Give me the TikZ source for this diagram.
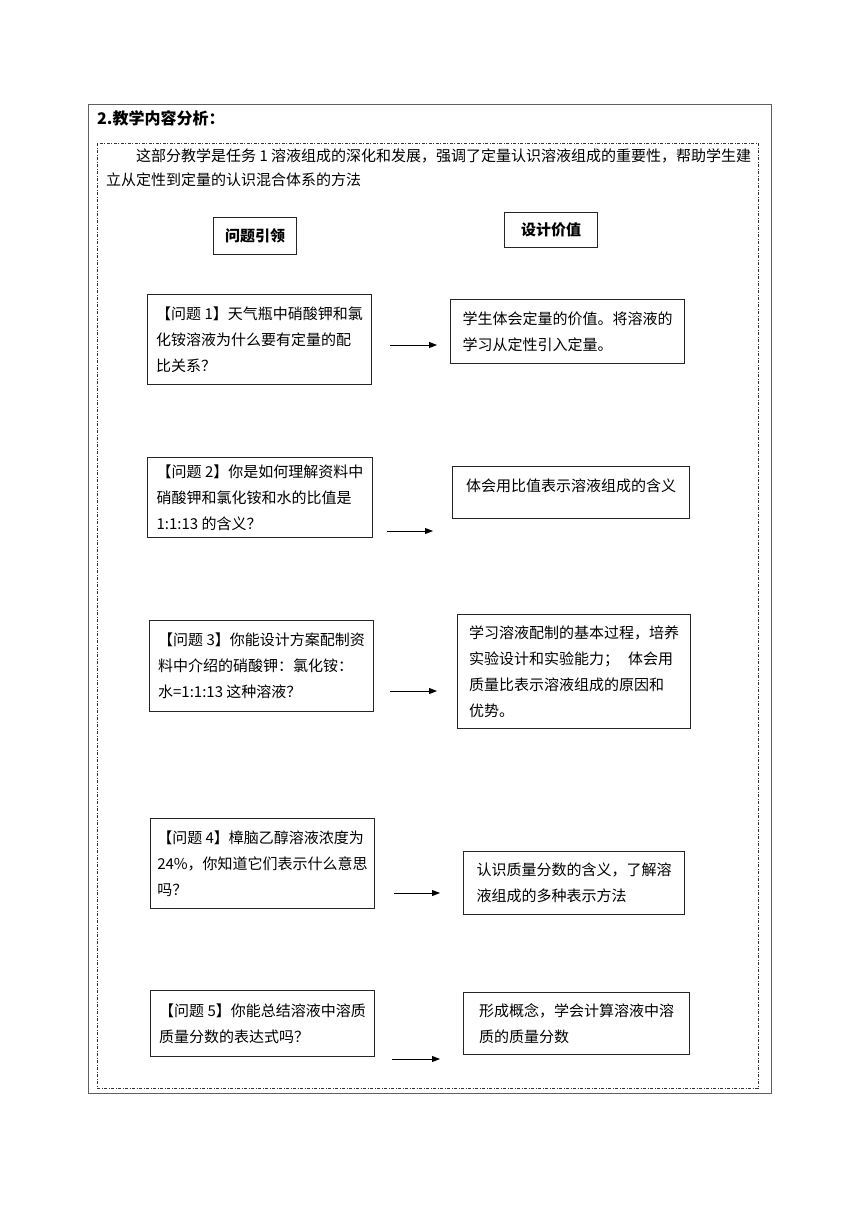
\documentclass[tikz,border=0pt]{standalone}
\usepackage{fontspec}
\setmainfont{Noto Sans CJK SC}
\usepackage{xcolor}
\usepackage{tikz}
\usetikzlibrary{arrows.meta}
\newcommand{\bodyfont}{\fontsize{15}{26}\selectfont}
\newcommand{\introfont}{\fontsize{15}{24}\selectfont}
\newcommand{\headfont}{\fontsize{15}{20}\selectfont\bfseries}
\newcommand{\titlefont}{\fontsize{16}{20}\selectfont\bfseries}
\definecolor{framegray}{RGB}{95,95,95}
\tikzset{
  frame/.style={draw=framegray, line width=1pt},
  dashframe/.style={draw=black!80, line width=0.8pt, dash pattern=on 3pt off 1.5pt on 1pt off 1.5pt},
  titletext/.style={anchor=west, inner sep=0pt, font=\titlefont},
  introtext/.style={anchor=north west, align=left, inner sep=0pt, font=\introfont},
  headbox/.style={rectangle, draw=black!85, line width=1pt, anchor=north west, inner sep=0pt, font=\headfont},
  qbox/.style={rectangle, draw=black!85, line width=1pt, anchor=north west, align=left, inner sep=2pt, font=\bodyfont},
  vbox/.style={qbox},
  arrow/.style={-{Triangle[length=8pt,width=6pt]}, line width=0.9pt},
}

\begin{document}
\begin{tikzpicture}[x=1pt, y=-1pt]
  \useasboundingbox (0,0) rectangle (860,1216);
  \fill[white] (0,0) rectangle (860,1216);

  % Frames
  \draw[frame] (88,104) rectangle (771,1093);
  \draw[dashframe] (97,143) rectangle (758,1088);

  % Title and intro
  \node[titletext] (title) at (97,118) {2.教学内容分析：};
  \node[introtext] (intro) at (106,149) {\hspace*{2em}这部分教学是任务 1 溶液组成的深化和发展，强调了定量认识溶液组成的重要性，帮助学生建\\立从定性到定量的认识混合体系的方法};

  % Column heads
  \node[headbox, minimum width=83pt, minimum height=37pt] (lead) at (213,217) {问题引领};
  \node[headbox, minimum width=93pt, minimum height=35pt] (value) at (504,212) {设计价值};

  % Row 1
  \node[qbox, minimum width=224pt, minimum height=90pt] (q1) at (147,294) {【问题 1】天气瓶中硝酸钾和氯\\化铵溶液为什么要有定量的配\\比关系？};
  \node[vbox, minimum width=234pt, minimum height=64pt] (v1) at (450,299) {学生体会定量的价值。将溶液的\\学习从定性引入定量。};
  \coordinate (a1s) at (390,345);
  \coordinate (a1e) at (437,345);
  \draw[arrow] (a1s) -- (a1e);

  % Row 2
  \node[qbox, minimum width=225pt, minimum height=80pt] (q2) at (147,457) {【问题 2】你是如何理解资料中\\硝酸钾和氯化铵和水的比值是\\1:1:13 的含义？};
  \node[vbox, minimum width=237pt, minimum height=52pt, text depth=14pt] (v2) at (452,466) {体会用比值表示溶液组成的含义};
  \coordinate (a2s) at (387,531);
  \coordinate (a2e) at (433,531);
  \draw[arrow] (a2s) -- (a2e);

  % Row 3
  \node[qbox, minimum width=224pt, minimum height=91pt] (q3) at (149,620) {【问题 3】你能设计方案配制资\\料中介绍的硝酸钾：氯化铵：\\水=1:1:13 这种溶液？};
  \node[vbox, minimum width=233pt, minimum height=114pt] (v3) at (457,614) {学习溶液配制的基本过程，培养\\实验设计和实验能力；\hspace{0.6em}体会用\\质量比表示溶液组成的原因和\\优势。};
  \coordinate (a3s) at (390,691);
  \coordinate (a3e) at (437,691);
  \draw[arrow] (a3s) -- (a3e);

  % Row 4
  \node[qbox, minimum width=224pt, minimum height=90pt] (q4) at (150,818) {【问题 4】樟脑乙醇溶液浓度为\\24\%，你知道它们表示什么意思\\吗？};
  \node[vbox, minimum width=221pt, minimum height=63pt] (v4) at (463,851) {认识质量分数的含义，了解溶\\液组成的多种表示方法};
  \coordinate (a4s) at (394,893);
  \coordinate (a4e) at (440,893);
  \draw[arrow] (a4s) -- (a4e);

  % Row 5
  \node[qbox, minimum width=224pt, minimum height=66pt] (q5) at (150,990) {【问题 5】你能总结溶液中溶质\\质量分数的表达式吗？};
  \node[vbox, minimum width=226pt, minimum height=62pt] (v5) at (463,992) {形成概念，学会计算溶液中溶\\质的质量分数};
  \coordinate (a5s) at (392,1059);
  \coordinate (a5e) at (440,1059);
  \draw[arrow] (a5s) -- (a5e);

\end{tikzpicture}
\end{document}
